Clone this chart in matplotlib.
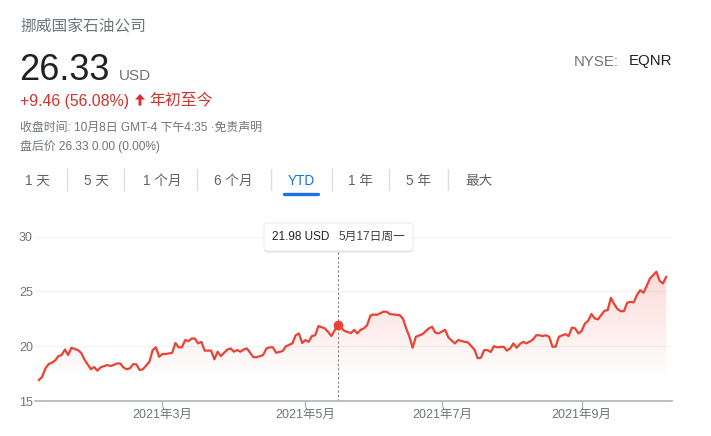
import matplotlib
matplotlib.use("Agg")
import matplotlib.pyplot as plt
import numpy as np
import pandas as pd
from matplotlib.patches import FancyArrow, FancyBboxPatch

plt.rcParams["font.family"] = ["Liberation Sans", "Noto Sans CJK SC", "DejaVu Sans"]

# --- données (index = jour de bourse depuis le 4 janv. 2021) ---
HOLIDAYS = ["2021-01-18", "2021-02-15", "2021-04-02", "2021-05-31", "2021-07-05", "2021-09-06"]
START, END = "2021-01-04", "2021-10-08"

day = [0, 1, 2, 3, 4, 5, 6, 7, 8, 9, 10, 12, 13, 14, 16, 17, 18, 19, 21, 22,
       23, 24, 25, 26, 27, 28, 29, 30, 31, 32, 34, 35, 36, 37, 38, 39, 41, 42, 43, 44,
       45, 46, 47, 48, 49, 50, 51, 53, 54, 55, 56, 58, 59, 60, 61, 62, 63, 64, 65, 66,
       67, 69, 70, 71, 72, 73, 75, 76, 78, 79, 80, 81, 82, 83, 84, 85, 86, 88, 89, 90,
       92, 94, 96, 97, 98, 99, 100, 101, 102, 103, 104, 106, 107, 108, 109, 111, 112, 113, 114, 115,
       116, 118, 120, 121, 122, 123, 125, 126, 128, 129, 131, 132, 134, 135, 136, 137, 138, 139, 140, 141,
       143, 144, 145, 146, 147, 148, 149, 150, 152, 153, 154, 155, 156, 157, 158, 159, 160, 162, 163, 164,
       165, 166, 167, 168, 169, 170, 171, 172, 174, 175, 176, 177, 178, 179, 180, 181, 182, 183, 184, 185,
       186, 187, 188, 189, 190, 191, 192, 193]
close = [16.92, 17.2, 17.98, 18.37, 18.5, 18.7, 19.1, 19.2, 19.7, 19.2, 19.86, 19.65, 19.4, 18.8, 17.9, 18.1, 17.77, 18.07, 18.28, 18.2,
         18.28, 18.43, 18.43, 18.07, 17.9, 17.98, 18.37, 18.34, 17.83, 17.9, 18.58, 19.65, 19.9, 19.04, 19.29, 19.29, 19.4, 20.3, 19.9, 19.9,
         20.56, 20.47, 20.7, 20.7, 20.26, 20.4, 19.6, 19.6, 18.8, 19.5, 19.1, 19.7, 19.8, 19.5, 19.65, 19.5, 19.7, 19.8, 19.4, 19.0,
         19.0, 19.2, 19.8, 19.9, 19.9, 19.4, 19.56, 20.0, 20.26, 21.0, 21.17, 20.3, 20.56, 20.4, 20.93, 21.0, 21.84, 21.63, 21.3, 20.93,
         21.98, 21.4, 21.2, 21.5, 21.17, 21.5, 21.63, 21.93, 22.8, 22.9, 22.87, 23.15, 23.15, 22.94, 22.9, 22.84, 22.54, 21.63, 20.87, 19.86,
         20.87, 21.1, 21.63, 21.78, 21.23, 21.17, 21.5, 20.8, 20.26, 20.56, 20.4, 20.35, 19.7, 18.9, 18.95, 19.65, 19.65, 19.47, 20.0, 19.9,
         19.96, 19.6, 19.8, 20.26, 19.86, 20.2, 20.4, 20.26, 20.6, 21.0, 21.0, 20.93, 21.0, 20.87, 19.96, 19.96, 20.87, 21.1, 20.93, 21.7,
         21.63, 21.17, 21.4, 22.08, 22.33, 22.94, 22.54, 22.45, 23.24, 23.3, 24.42, 23.85, 23.4, 23.2, 23.2, 23.97, 24.05, 24.0, 24.67, 25.12,
         24.88, 25.49, 26.19, 26.49, 26.8, 25.97, 25.73, 26.33]

month_ticks = ["2021-03-01", "2021-05-01", "2021-07-01", "2021-09-01"]
month_labels = ["2021年3月", "2021年5月", "2021年7月", "2021年9月"]
y_ticks = [15, 20, 25, 30]

hover_day = 92
hover_label = "21.98 USD"
hover_date = "5月17日周一"

tabs = ["1 天", "5 天", "1 个月", "6 个月", "YTD", "1 年", "5 年", "最大"]
tab_x = [37.5, 96, 162, 233, 301, 360, 419, 479]
sep_x = [66.7, 124.3, 197.3, 270.7, 331.7, 389.3, 448.3]

RED = "#ea4335"
TEXT_RED = "#d2322d"
GREY = "#70757a"
DARK = "#202124"
BLUE = "#1a73e8"

W, H = 711, 436
fig = plt.figure(figsize=(W / 100, H / 100), dpi=100)

# --- graphique ---
ax = fig.add_axes([35 / W, 35 / H, 636.7 / W, 164.3 / H])
ax.set_xlim(-1.2, 194.7)
ax.set_ylim(15, 30)

ax.plot(day, close, color=RED, lw=1.6, zorder=3, solid_joinstyle="round")

# dégradé sous la courbe
ramp = np.linspace(15, 30, 300)
alpha = 0.2 * np.clip((ramp - 17) / (27 - 17), 0, 1)
rgba = np.zeros((300, 1, 4))
rgba[..., :3] = matplotlib.colors.to_rgb(RED)
rgba[:, 0, 3] = alpha
area = ax.fill_between(day, close, 15, facecolor="none", edgecolor="none")
im = ax.imshow(rgba, origin="lower", aspect="auto", extent=[day[0], day[-1], 15, 30], zorder=1)
im.set_clip_path(area.get_paths()[0], transform=ax.transData)

ax.axvline(hover_day, color="#80868b", lw=0.8, ls=(0, (2, 2)), zorder=2)
ax.plot([hover_day], [close[day.index(hover_day)]], "o", color=RED, ms=6, zorder=4)

trading = pd.bdate_range(START, END, freq="C", holidays=HOLIDAYS)
ax.set_xticks([trading.searchsorted(pd.Timestamp(d)) for d in month_ticks])
ax.set_xticklabels(month_labels)
ax.set_yticks(y_ticks)
ax.yaxis.grid(True, color="#f1f3f4", lw=1)
ax.set_axisbelow(True)
for side in ["top", "right", "left"]:
    ax.spines[side].set_visible(False)
ax.spines["bottom"].set_color("#b0b4b9")
ax.spines["bottom"].set_linewidth(1.2)
ax.tick_params(axis="y", length=0, pad=1.5, labelcolor=GREY, labelsize=9)
ax.tick_params(axis="x", length=4, width=1, color="#b0b4b9", pad=2, labelcolor=GREY, labelsize=9)

# --- en-tête et infobulle, en pixels ---
ov = fig.add_axes([0, 0, 1, 1])
ov.set_xlim(0, W)
ov.set_ylim(H, 0)
ov.axis("off")
ov.set_zorder(5)

ov.text(20, 26.5, "挪威国家石油公司", fontsize=11.3, color=GREY, va="center")
ov.text(19, 80, "26.33", fontsize=26, color=DARK, va="baseline")
ov.text(119, 80, "USD", fontsize=11, color=GREY, va="baseline")
ov.text(618.5, 61.5, "NYSE:", fontsize=10.8, color=GREY, va="center", ha="right")
ov.text(672, 61.5, "EQNR", fontsize=10.8, color=DARK, va="center", ha="right")

ov.text(20, 106, "+9.46 (56.08%)", fontsize=11.4, color=TEXT_RED, va="baseline")
ov.add_patch(FancyArrow(140, 105.5, 0, -11.5, width=3, head_width=10, head_length=5.5,
                        length_includes_head=True, color=TEXT_RED, lw=0))
ov.text(149, 100, "年初至今", fontsize=11.4, color=TEXT_RED, va="center")

ov.text(20, 128, "收盘时间: 10月8日 GMT-4 下午4:35 ·免责声明", fontsize=8.6, color=GREY, va="center")
ov.text(20, 146, "盘后价 26.33 0.00 (0.00%)", fontsize=8.6, color=GREY, va="center")

for label, x in zip(tabs, tab_x):
    ov.text(x, 180.5, label, fontsize=9.8, ha="center", va="center",
            color=BLUE if label == "YTD" else "#5f6368")
for x in sep_x:
    ov.plot([x, x], [169.5, 190.5], color="#dadce0", lw=0.9)
ov.plot([283.5, 317.5], [193.5, 193.5], color=BLUE, lw=2.4, solid_capstyle="round")

# infobulle
ov.add_patch(FancyBboxPatch((264, 224.5), 149, 28, boxstyle="round,pad=0,rounding_size=3",
                            fc="#000000", ec="none", alpha=0.12))
ov.add_patch(FancyBboxPatch((264, 223), 149, 28, boxstyle="round,pad=0,rounding_size=3",
                            fc="white", ec="#e6e6e6", lw=0.6))
ov.text(272.5, 237, hover_label, fontsize=8.5, color=DARK, va="center")
ov.text(338.5, 237, hover_date, fontsize=8.5, color="#3c4043", va="center")

fig.savefig("out.png", dpi=100)
